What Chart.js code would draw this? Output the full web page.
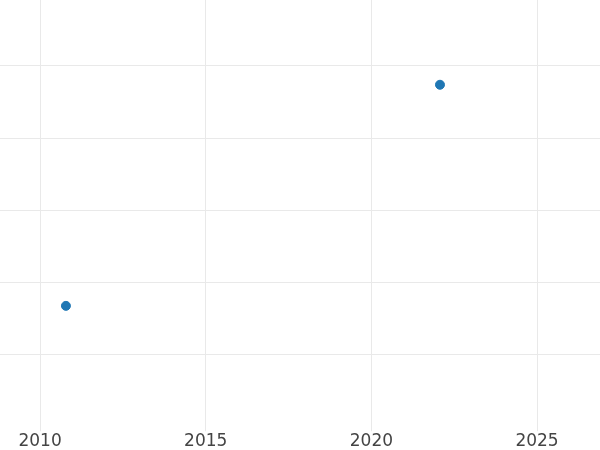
<!DOCTYPE html>
<html>
<head>
<meta charset="utf-8">
<script src="https://cdn.jsdelivr.net/npm/chart.js@4"></script>
<style>
  html, body { margin: 0; padding: 0; background: #fff; }
  #wrap { width: 600px; height: 450px; }
</style>
</head>
<body>
<div id="wrap"><canvas id="myChart"></canvas></div>
<script>
// values
const years = [2010.78, 2022.07];
const values = [1.68, 4.74];
const xTicks = [2010, 2015, 2020, 2025];
const yTicks = [1, 2, 3, 4, 5];

const ctx = document.getElementById('myChart').getContext('2d');
const chart = new Chart(ctx, {
    type: 'scatter',
    data: {
        datasets: [{
            data: years.map((x, i) => ({ x: x, y: values[i] })),
            backgroundColor: '#1f77b4',
            borderColor: '#1f77b4',
            pointRadius: 4.5,
            pointHoverRadius: 4.5
        }]
    },
    options: {
        responsive: true,
        maintainAspectRatio: false,
        animation: false,
        layout: { padding: 0, autoPadding: false },
        plugins: { legend: { display: false }, tooltip: { enabled: false } },
        scales: {
            x: {
                type: 'linear',
                min: 2008.79,
                max: 2026.9,
                afterBuildTicks: axis => { axis.ticks = xTicks.map(v => ({ value: v })); },
                afterFit: axis => { axis.height = 22.75; },
                grid: { color: '#e9e9e9', lineWidth: 1, tickLength: 4 },
                border: { display: false },
                ticks: {
                    color: '#444444',
                    font: { family: 'DejaVu Sans', size: 17 },
                    padding: 0,
                    maxRotation: 0,
                    callback: v => String(v)
                }
            },
            y: {
                min: 0,
                max: 5.913,
                afterBuildTicks: axis => { axis.ticks = yTicks.map(v => ({ value: v })); },
                grid: { color: '#e9e9e9', lineWidth: 1, drawTicks: false },
                border: { display: false },
                ticks: { display: false }
            }
        }
    }
});
</script>
</body>
</html>
